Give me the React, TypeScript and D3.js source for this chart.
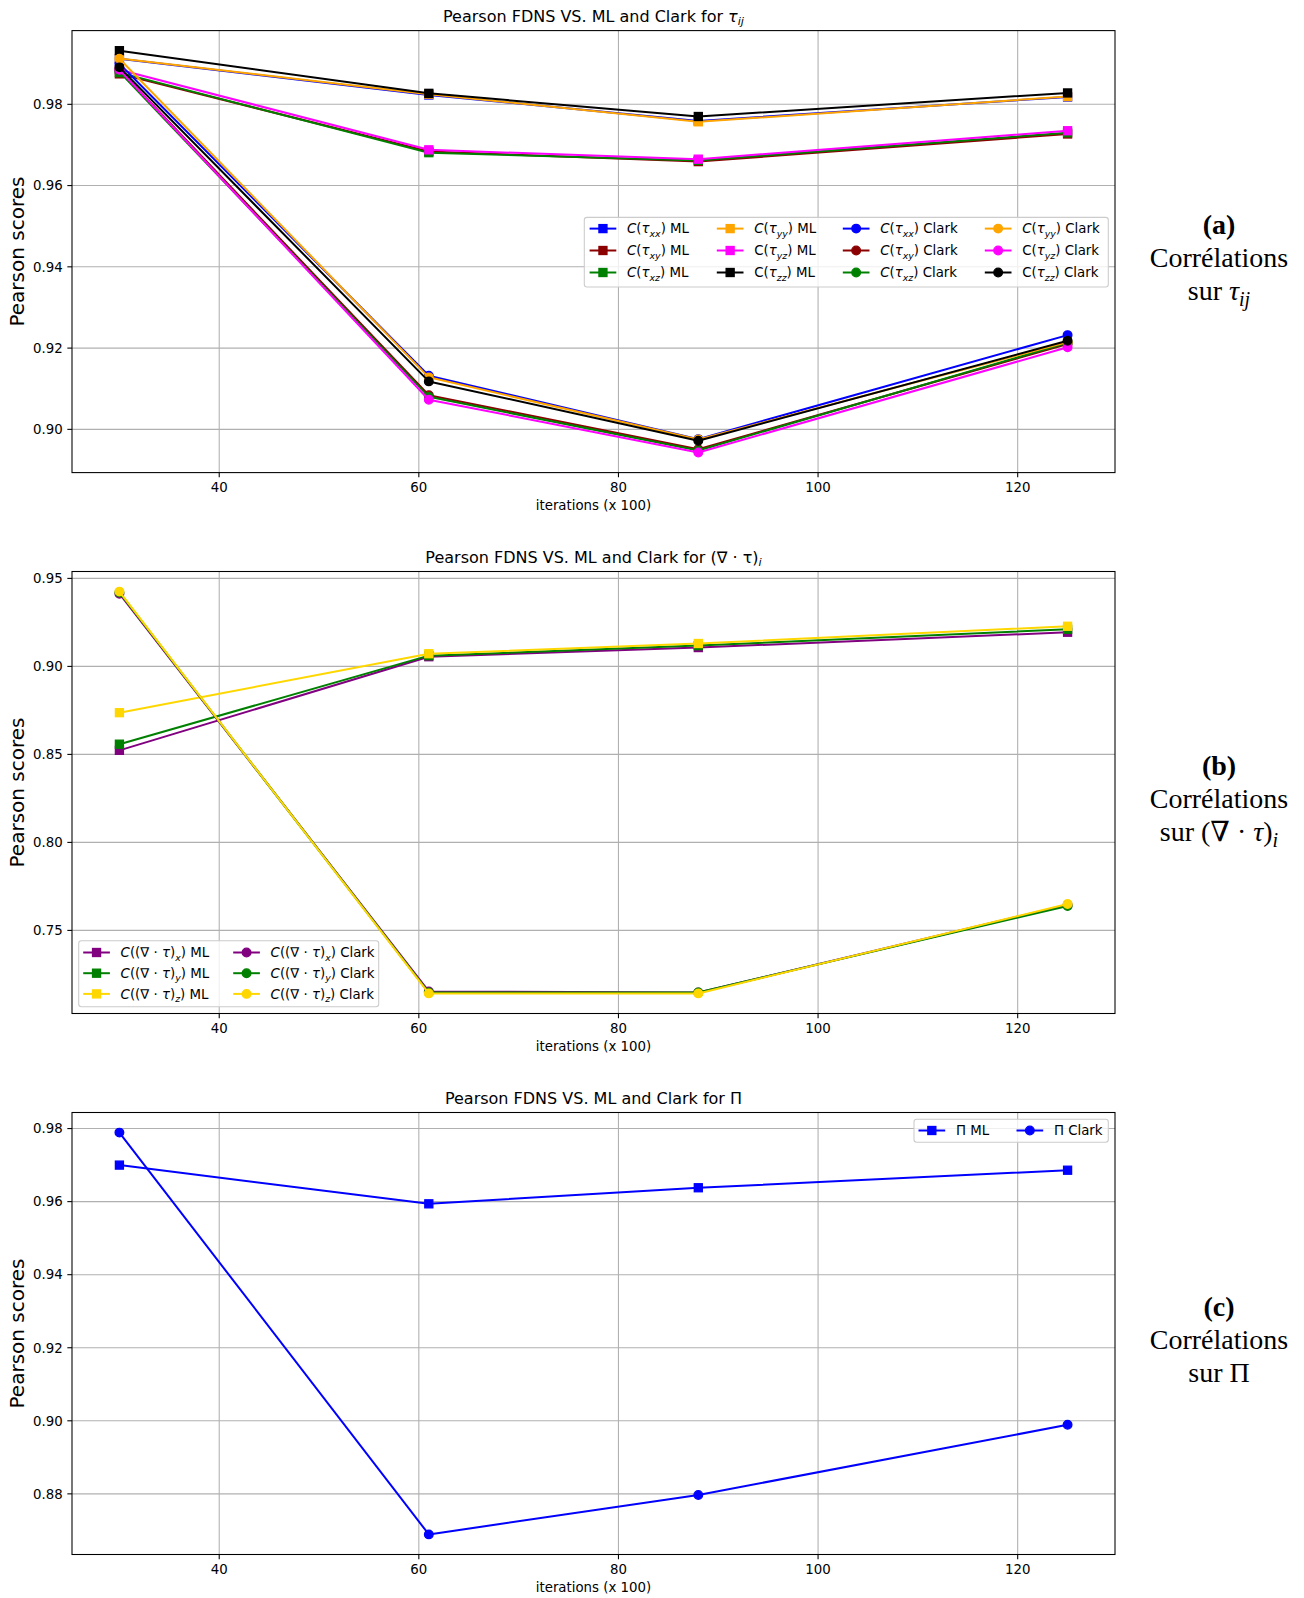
import React from 'react';
import * as d3 from 'd3';

// ---------- data ----------
const iterations = [30, 61, 88, 125];

// panel (a): correlations on tau_ij
const tauXxML = [0.9912, 0.9823, 0.9759, 0.9818];
const tauXyML = [0.9875, 0.9684, 0.9659, 0.9727];
const tauXzML = [0.9878, 0.9681, 0.9662, 0.9730];
const tauYyML = [0.9913, 0.9825, 0.9757, 0.9819];
const tauYzML = [0.9885, 0.9688, 0.9665, 0.9735];
const tauZzML = [0.9932, 0.9827, 0.9770, 0.9828];

const tauXxClark = [0.9900, 0.9132, 0.8976, 0.9232];
const tauXyClark = [0.9885, 0.9084, 0.8951, 0.9210];
const tauXzClark = [0.9880, 0.9080, 0.8948, 0.9213];
const tauYyClark = [0.9912, 0.9128, 0.8975, 0.9215];
const tauYzClark = [0.9885, 0.9073, 0.8943, 0.9202];
const tauZzClark = [0.9891, 0.9118, 0.8972, 0.9218];

// panel (b): correlations on (div tau)_i
const divXML = [0.8523, 0.9055, 0.9107, 0.9194];
const divYML = [0.8558, 0.9061, 0.9118, 0.9211];
const divZML = [0.8737, 0.9072, 0.9130, 0.9228];
const divXClark = [0.9413, 0.7153, 0.7147, 0.7645];
const divYClark = [0.9420, 0.7147, 0.7147, 0.7639];
const divZClark = [0.9425, 0.7142, 0.7142, 0.7650];

// panel (c): correlations on Pi
const piML = [0.9700, 0.9594, 0.9638, 0.9686];
const piClark = [0.9789, 0.8689, 0.8797, 0.8989];

// ticks
const xTicks = [40, 60, 80, 100, 120];
const yTicksTau = [0.90, 0.92, 0.94, 0.96, 0.98];
const yTicksDiv = [0.75, 0.80, 0.85, 0.90, 0.95];
const yTicksPi = [0.88, 0.90, 0.92, 0.94, 0.96, 0.98];

const xLabel = 'iterations (x 100)';
const yLabel = 'Pearson scores';
const titlePrefix = 'Pearson FDNS VS. ML and Clark for ';

// ---------- layout ----------
const W = 1304;
const H = 1598;
const AX_L = 72;
const AX_R = 1115;
const AX_H = 442;
const TOPS = [30.6, 571.5, 1112.5];
const FONT = "'DejaVu Sans', sans-serif";
const SERIF = "'Liberation Serif', 'DejaVu Serif', serif";
const FS = 13.33;
const SUB = 9.4;
const SUB_DY = 3.3;
const NOTE_X = 1219;

type Marker = 'square' | 'circle';
interface Series {
  values: number[];
  color: string;
  marker: Marker;
  label: React.ReactNode;
}

const pad = (e: [number, number]): [number, number] => {
  const r = e[1] - e[0];
  return [e[0] - r * 0.05, e[1] + r * 0.05];
};

function MarkerShape({ kind, cx, cy, color }: { kind: Marker; cx: number; cy: number; color: string }) {
  if (kind === 'square') {
    return <rect x={cx - 4} y={cy - 4} width={8} height={8} fill={color} stroke={color} strokeWidth={1.33} />;
  }
  return <circle cx={cx} cy={cy} r={4.3} fill={color} stroke={color} strokeWidth={1.33} />;
}

// label builders
function tauLabel(sub: string, italicC: boolean, suffix: string) {
  return [
    <tspan key="c" fontStyle={italicC ? 'italic' : 'normal'}>C</tspan>,
    <tspan key="p">(</tspan>,
    <tspan key="t" fontStyle="italic">τ</tspan>,
    <tspan key="s" fontStyle="italic" fontSize={SUB} dy={SUB_DY}>{sub}</tspan>,
    <tspan key="q" dy={-SUB_DY}>)</tspan>,
    <tspan key="x">{' ' + suffix}</tspan>,
  ];
}

function divLabel(sub: string, suffix: string) {
  return [
    <tspan key="c" fontStyle="italic">C</tspan>,
    <tspan key="p">((∇ · </tspan>,
    <tspan key="t" fontStyle="italic">τ</tspan>,
    <tspan key="q">)</tspan>,
    <tspan key="s" fontStyle="italic" fontSize={SUB} dy={SUB_DY}>{sub}</tspan>,
    <tspan key="r" dy={-SUB_DY}>)</tspan>,
    <tspan key="x">{' ' + suffix}</tspan>,
  ];
}

interface LegendSpec {
  x: number;
  y: number;
  w: number;
  h: number;
  cols: number[];
  rows: number[];
  items: Series[];
}

function Legend({ spec }: { spec: LegendSpec }) {
  const nRows = spec.rows.length;
  return (
    <g>
      <rect x={spec.x} y={spec.y} width={spec.w} height={spec.h} rx={2.7} fill="white" fillOpacity={0.8} stroke="#cccccc" strokeWidth={1.07} />
      {spec.items.map((s, i) => {
        const col = Math.floor(i / nRows);
        const row = i % nRows;
        const hx = spec.x + spec.cols[col];
        const cy = spec.y + spec.rows[row];
        return (
          <g key={i}>
            <line x1={hx} x2={hx + 26.7} y1={cy} y2={cy} stroke={s.color} strokeWidth={2} />
            <MarkerShape kind={s.marker} cx={hx + 13.35} cy={cy} color={s.color} />
            <text x={hx + 37.4} y={cy + 4.7} fontFamily={FONT} fontSize={FS} fill="#000" style={{ whiteSpace: 'pre' }}>
              {s.label}
            </text>
          </g>
        );
      })}
    </g>
  );
}

interface PanelProps {
  top: number;
  series: Series[];
  yTicks: number[];
  title: React.ReactNode;
  legend: LegendSpec;
  note: React.ReactNode[];
}

function Panel({ top, series, yTicks, title, legend, note }: PanelProps) {
  const bottom = top + AX_H;
  const x = d3.scaleLinear().domain(pad(d3.extent(iterations) as [number, number])).range([AX_L, AX_R]);
  const all = series.flatMap((s) => s.values);
  const y = d3.scaleLinear().domain(pad(d3.extent(all) as [number, number])).range([bottom, top]);
  const line = d3
    .line<number>()
    .x((_, i) => x(iterations[i]))
    .y((v) => y(v));
  const fmt = d3.format('.2f');
  const cx = (AX_L + AX_R) / 2;
  const cy = (top + bottom) / 2;

  return (
    <g>
      {/* grid */}
      {xTicks.map((t) => (
        <line key={'gx' + t} x1={x(t)} x2={x(t)} y1={top} y2={bottom} stroke="#b0b0b0" strokeWidth={1.07} />
      ))}
      {yTicks.map((t) => (
        <line key={'gy' + t} x1={AX_L} x2={AX_R} y1={y(t)} y2={y(t)} stroke="#b0b0b0" strokeWidth={1.07} />
      ))}
      {/* series */}
      {series.map((s, i) => (
        <g key={i}>
          <path d={line(s.values) || ''} fill="none" stroke={s.color} strokeWidth={2} strokeLinejoin="round" />
          {s.values.map((v, j) => (
            <MarkerShape key={j} kind={s.marker} cx={x(iterations[j])} cy={y(v)} color={s.color} />
          ))}
        </g>
      ))}
      {/* frame */}
      <rect x={AX_L} y={top} width={AX_R - AX_L} height={AX_H} fill="none" stroke="#000" strokeWidth={1.07} />
      {/* ticks */}
      {xTicks.map((t) => (
        <g key={'tx' + t}>
          <line x1={x(t)} x2={x(t)} y1={bottom} y2={bottom + 4.67} stroke="#000" strokeWidth={1.07} />
          <text x={x(t)} y={bottom + 19.5} textAnchor="middle" fontFamily={FONT} fontSize={FS}>{t}</text>
        </g>
      ))}
      {yTicks.map((t) => (
        <g key={'ty' + t}>
          <line x1={AX_L - 4.67} x2={AX_L} y1={y(t)} y2={y(t)} stroke="#000" strokeWidth={1.07} />
          <text x={AX_L - 9.3} y={y(t) + 4.8} textAnchor="end" fontFamily={FONT} fontSize={FS}>{fmt(t)}</text>
        </g>
      ))}
      {/* labels */}
      <text x={cx} y={bottom + 37.5} textAnchor="middle" fontFamily={FONT} fontSize={FS}>{xLabel}</text>
      <text transform={`translate(24,${cy}) rotate(-90)`} textAnchor="middle" fontFamily={FONT} fontSize={20}>{yLabel}</text>
      <text x={cx} y={top - 9} textAnchor="middle" fontFamily={FONT} fontSize={16} style={{ whiteSpace: 'pre' }}>{title}</text>
      <Legend spec={legend} />
      {/* side note */}
      <text x={NOTE_X} y={top + 203} textAnchor="middle" fontFamily={SERIF} fontSize={28} fontWeight="bold">{note[0]}</text>
      <text x={NOTE_X} y={top + 236.5} textAnchor="middle" fontFamily={SERIF} fontSize={28}>{note[1]}</text>
      <text x={NOTE_X} y={top + 269} textAnchor="middle" fontFamily={SERIF} fontSize={28} style={{ whiteSpace: 'pre' }}>{note[2]}</text>
    </g>
  );
}

export default function App() {
  const blue = '#0000ff';
  const darkred = '#8b0000';
  const green = '#008000';
  const orange = '#ffa500';
  const magenta = '#ff00ff';
  const black = '#000000';
  const purple = '#800080';
  const gold = '#ffd700';

  const seriesA: Series[] = [
    { values: tauXxML, color: blue, marker: 'square', label: tauLabel('xx', true, 'ML') },
    { values: tauXyML, color: darkred, marker: 'square', label: tauLabel('xy', true, 'ML') },
    { values: tauXzML, color: green, marker: 'square', label: tauLabel('xz', true, 'ML') },
    { values: tauYyML, color: orange, marker: 'square', label: tauLabel('yy', true, 'ML') },
    { values: tauYzML, color: magenta, marker: 'square', label: tauLabel('yz', false, 'ML') },
    { values: tauZzML, color: black, marker: 'square', label: tauLabel('zz', false, 'ML') },
    { values: tauXxClark, color: blue, marker: 'circle', label: tauLabel('xx', true, 'Clark') },
    { values: tauXyClark, color: darkred, marker: 'circle', label: tauLabel('xy', true, 'Clark') },
    { values: tauXzClark, color: green, marker: 'circle', label: tauLabel('xz', true, 'Clark') },
    { values: tauYyClark, color: orange, marker: 'circle', label: tauLabel('yy', true, 'Clark') },
    { values: tauYzClark, color: magenta, marker: 'circle', label: tauLabel('yz', false, 'Clark') },
    { values: tauZzClark, color: black, marker: 'circle', label: tauLabel('zz', false, 'Clark') },
  ];

  const seriesB: Series[] = [
    { values: divXML, color: purple, marker: 'square', label: divLabel('x', 'ML') },
    { values: divYML, color: green, marker: 'square', label: divLabel('y', 'ML') },
    { values: divZML, color: gold, marker: 'square', label: divLabel('z', 'ML') },
    { values: divXClark, color: purple, marker: 'circle', label: divLabel('x', 'Clark') },
    { values: divYClark, color: green, marker: 'circle', label: divLabel('y', 'Clark') },
    { values: divZClark, color: gold, marker: 'circle', label: divLabel('z', 'Clark') },
  ];

  const seriesC: Series[] = [
    { values: piML, color: blue, marker: 'square', label: 'Π ML' },
    { values: piClark, color: blue, marker: 'circle', label: 'Π Clark' },
  ];

  const legendA: LegendSpec = {
    x: AX_R - 6.7 - 524, y: 217.4, w: 524, h: 69.6,
    cols: [5.3, 132.5, 258.5, 400.5], rows: [11.2, 33.1, 55.1], items: seriesA,
  };
  const legendB: LegendSpec = {
    x: AX_L + 6.7, y: TOPS[1] + AX_H - 6.7 - 66, w: 300, h: 66,
    cols: [4.5, 154.5], rows: [11.7, 32.4, 53.1], items: seriesB,
  };
  const legendC: LegendSpec = {
    x: AX_R - 6.7 - 194.3, y: TOPS[2] + 6.7, w: 194.3, h: 23,
    cols: [4.5, 102.5], rows: [11.3], items: seriesC,
  };

  const titleA = [
    <tspan key="a">{titlePrefix}</tspan>,
    <tspan key="t" fontStyle="italic">τ</tspan>,
    <tspan key="s" fontStyle="italic" fontSize={11.2} dy={3.8}>ij</tspan>,
  ];
  const titleB = [
    <tspan key="a">{titlePrefix + '(∇ · τ)'}</tspan>,
    <tspan key="s" fontStyle="italic" fontSize={11.2} dy={3.8}>i</tspan>,
  ];
  const titleC = titlePrefix + 'Π';

  const noteA = [
    '(a)',
    'Corrélations',
    [
      <tspan key="a">{'sur '}</tspan>,
      <tspan key="t" fontStyle="italic">τ</tspan>,
      <tspan key="s" fontStyle="italic" fontSize={20} dy={6}>ij</tspan>,
    ],
  ];
  const noteB = [
    '(b)',
    'Corrélations',
    [
      <tspan key="a">{'sur (∇ · '}</tspan>,
      <tspan key="t" fontStyle="italic">τ</tspan>,
      <tspan key="p">)</tspan>,
      <tspan key="s" fontStyle="italic" fontSize={20} dy={6}>i</tspan>,
    ],
  ];
  const noteC = ['(c)', 'Corrélations', 'sur Π'];

  return (
    <svg
      width={W}
      height={H}
      viewBox={`0 0 ${W} ${H}`}
      style={{ position: 'absolute', left: 0, top: 0, background: '#fff' }}
    >
      <rect x={0} y={0} width={W} height={H} fill="#fff" />
      <Panel top={TOPS[0]} series={seriesA} yTicks={yTicksTau} title={titleA} legend={legendA} note={noteA} />
      <Panel top={TOPS[1]} series={seriesB} yTicks={yTicksDiv} title={titleB} legend={legendB} note={noteB} />
      <Panel top={TOPS[2]} series={seriesC} yTicks={yTicksPi} title={titleC} legend={legendC} note={noteC} />
    </svg>
  );
}
